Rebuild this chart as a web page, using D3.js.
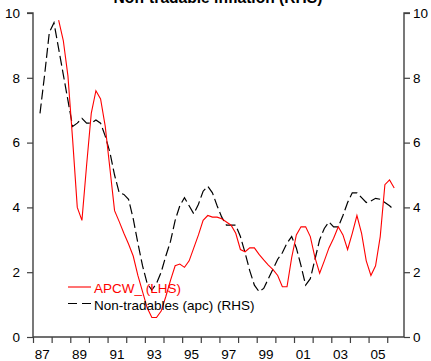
<!DOCTYPE html>
<html>
<head>
<meta charset="utf-8">
<script src="https://cdn.jsdelivr.net/npm/d3@7"></script>
<style>
  html, body { margin: 0; padding: 0; background: #fff; }
  svg { display: block; }
  text { font-family: "Liberation Sans", Arial, sans-serif; }
</style>
</head>
<body>
<script>
// Quarterly annual-percentage-change series
const apcwStart = 1988.25;   // first quarter: 1988 Q2
const apcwValues = [
  9.78, 9.15, 8.05,
  6.1, 4.0, 3.6, 5.3,
  6.9, 7.6, 7.35, 6.5,
  5.2, 3.9, 3.56, 3.2,
  2.87, 2.5, 1.9, 1.4,
  0.9, 0.6, 0.6, 0.8,
  1.25, 1.75, 2.2, 2.25,
  2.15, 2.35, 2.75, 3.15,
  3.6, 3.75, 3.7, 3.7,
  3.65, 3.55, 3.45, 3.2,
  2.7, 2.63, 2.75, 2.75,
  2.55, 2.38, 2.22, 2.08,
  1.9, 1.55, 1.55, 2.45,
  3.15, 3.4, 3.4, 3.1,
  2.45, 1.97, 2.35, 2.75,
  3.05, 3.4, 3.15, 2.7,
  3.2, 3.75, 3.2, 2.35,
  1.9, 2.2, 3.1, 4.7,
  4.85, 4.6
];

const nonTradStart = 1987.25; // first quarter: 1987 Q2
const nonTradValues = [
  6.9, 8.1, 9.4,
  9.7, 8.9, 8.1, 7.3,
  6.5, 6.6, 6.75, 6.6,
  6.6, 6.7, 6.6, 6.2,
  5.7, 5.0, 4.45, 4.4,
  4.25, 3.65, 2.9, 2.2,
  1.65, 1.45, 1.65, 2.0,
  2.5, 2.95, 3.6, 4.05,
  4.3, 4.05, 3.8, 4.1,
  4.5, 4.65, 4.45, 4.05,
  3.7, 3.45, 3.45, 3.45,
  3.1, 2.6, 2.05, 1.6,
  1.4, 1.5, 1.8, 2.1,
  2.4, 2.6, 2.9, 3.1,
  2.75, 2.2, 1.6, 1.8,
  2.4, 3.0, 3.35, 3.55,
  3.4, 3.4, 3.75, 4.15,
  4.45, 4.45, 4.3, 4.15,
  4.2, 4.28, 4.25, 4.15,
  4.05, 3.92
];

const yearTicks = d3.range(1987, 2007);
const yearLabels = ["87", "89", "91", "93", "95", "97", "99", "01", "03", "05"];
const yTicks = [0, 2, 4, 6, 8, 10];
const titleText = "Non-tradable inflation (RHS)";
const legendLabels = ["APCW_ (LHS)", "Non-tradables (apc) (RHS)"];

const W = 431, H = 361;
const axisColor = "#404040";
const fontSize = 13.5;

const svg = d3.select("body").append("svg")
  .attr("width", W).attr("height", H);

const x = d3.scaleLinear().domain([1987, 2006.9]).range([33, 404]);
const yL = d3.scaleLinear().domain([0, 10]).range([337, 13]);
const yR = d3.scaleLinear().domain([0, 10]).range([337, 13]);

// quarterly points placed at the middle of each quarter
const toPoints = (start, vals) => vals.map((v, i) => ({ t: start + i * 0.25 + 0.125, v }));
const apcw = toPoints(apcwStart, apcwValues);
const nonTrad = toPoints(nonTradStart, nonTradValues);

// Title (sits partly above the top edge)
svg.append("text")
  .attr("x", 218).attr("y", 2.5)
  .attr("text-anchor", "middle")
  .attr("font-weight", "bold")
  .attr("font-size", 15.6)
  .attr("fill", "#000")
  .text(titleText);

// Left axis
const leftAxis = svg.append("g")
  .attr("transform", `translate(${x(1987)},0)`)
  .call(d3.axisLeft(yL).tickValues(yTicks).tickSize(6).tickPadding(7).tickFormat(d3.format("d")));

// Right axis
const rightAxis = svg.append("g")
  .attr("transform", `translate(${x.range()[1]},0)`)
  .call(d3.axisRight(yR).tickValues(yTicks).tickSize(6).tickPadding(3).tickFormat(d3.format("d")));

// Bottom axis: a tick at each year start, labels centred in odd years
const bottomAxis = svg.append("g")
  .attr("transform", `translate(0,${yL(0)})`)
  .call(d3.axisBottom(x).tickValues(yearTicks).tickSize(6).tickFormat(""));

[leftAxis, rightAxis, bottomAxis].forEach(g => {
  g.select(".domain").attr("stroke", axisColor).attr("stroke-width", 1.4);
  g.selectAll(".tick line").attr("stroke", axisColor).attr("stroke-width", 1.2);
  g.selectAll(".tick text").attr("fill", "#000")
    .attr("font-size", fontSize)
    .attr("font-family", "Liberation Sans, Arial, sans-serif");
});
leftAxis.select(".domain").attr("d", `M-6,${yL(10)}H0V${yL(0)}`);
rightAxis.select(".domain").attr("d", `M6,${yR(10)}H0V${yR(0)}`);
bottomAxis.select(".domain").attr("d", `M${x(1987)},0H${x.range()[1]}`);

svg.append("g").selectAll("text")
  .data(yearLabels)
  .join("text")
  .attr("x", (d, i) => x(1987 + i * 2 + 0.5))
  .attr("y", 359)
  .attr("text-anchor", "middle")
  .attr("font-size", fontSize)
  .attr("fill", "#000")
  .text(d => d);

// Series
const line = (ys) => d3.line().x(d => x(d.t)).y(d => ys(d.v));

svg.append("path")
  .datum(nonTrad)
  .attr("fill", "none")
  .attr("stroke", "#000")
  .attr("stroke-width", 1.2)
  .attr("stroke-dasharray", "10,4")
  .attr("d", line(yR));

svg.append("path")
  .datum(apcw)
  .attr("fill", "none")
  .attr("stroke", "#ff0000")
  .attr("stroke-width", 1.1)
  .attr("d", line(yL));

// Legend
const legend = svg.append("g");
legend.append("line")
  .attr("x1", 68).attr("x2", 91).attr("y1", 287).attr("y2", 287)
  .attr("stroke", "#ff0000").attr("stroke-width", 1.1);
legend.append("text")
  .attr("x", 94).attr("y", 293)
  .attr("font-size", fontSize).attr("fill", "#ff0000")
  .text(legendLabels[0]);
legend.append("line")
  .attr("x1", 68).attr("x2", 91).attr("y1", 303.5).attr("y2", 303.5)
  .attr("stroke", "#000").attr("stroke-width", 1.2)
  .attr("stroke-dasharray", "9,5");
legend.append("text")
  .attr("x", 94).attr("y", 309.5)
  .attr("font-size", fontSize).attr("fill", "#000")
  .text(legendLabels[1]);
</script>
</body>
</html>
